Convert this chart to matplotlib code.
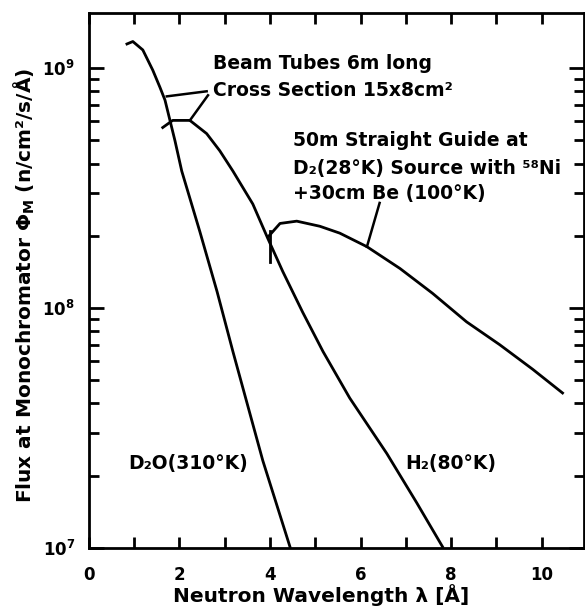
# -*- coding: utf-8 -*-

import numpy as np
import matplotlib as mpl
mpl.use('Agg')

mpl.rcParams.update({
    "font.family": "DejaVu Sans",
    "font.weight": "bold",
    "font.size": 12,
    "axes.labelweight": "bold",
    "axes.labelsize": 14.5,
    "mathtext.fontset": "dejavusans",
    "mathtext.default": "bf",
    "axes.linewidth": 2.0,
    "xtick.direction": "in",
    "ytick.direction": "in",
})

import matplotlib.pyplot as plt
from matplotlib.ticker import FixedLocator, FixedFormatter, LogLocator, NullFormatter

# wavelength [A] and flux [n/cm2/s/A]
d2o_lam  = [0.84, 0.97, 1.19, 1.41, 1.57, 1.68, 1.79, 1.90, 2.05, 2.45,
            2.83, 3.18, 3.84, 4.44]
d2o_flux = [1.26e9, 1.29e9, 1.19e9, 9.8e8, 8.3e8, 7.35e8, 6.05e8, 4.98e8,
            3.72e8, 2.08e8, 1.17e8, 6.58e7, 2.31e7, 1.01e7]

h2_lam  = [1.63, 1.85, 2.23, 2.60, 2.89, 3.18, 3.62, 3.95, 4.28,
           4.72, 5.17, 5.76, 6.58, 7.24, 7.81]
h2_flux = [5.65e8, 6.05e8, 6.05e8, 5.33e8, 4.52e8, 3.72e8, 2.71e8,
           1.95e8, 1.42e8, 9.6e7, 6.58e7, 4.21e7, 2.47e7, 1.54e7, 1.01e7]

guide_lam  = [3.97, 4.22, 4.59, 5.10, 5.54, 6.14, 6.87, 7.59, 8.34, 9.07,
              9.80, 10.46]
guide_flux = [1.99e8, 2.25e8, 2.30e8, 2.19e8, 2.05e8, 1.80e8, 1.46e8,
              1.15e8, 8.75e7, 7.03e7, 5.55e7, 4.42e7]

# short vertical stroke where the guide curve starts
guide_mark_lam  = [4.0, 4.0]
guide_mark_flux = [2.09e8, 1.56e8]

xticks = list(range(0, 11))
xlabels = ['0', '', '2', '', '4', '', '6', '', '8', '', '10']

fig = plt.figure(figsize=(5.85, 6.08), dpi=100)
ax = fig.add_axes([0.152, 0.099, 0.846, 0.880])

lw = 2.0
ax.plot(d2o_lam, d2o_flux, color='black', lw=lw)
ax.plot(h2_lam, h2_flux, color='black', lw=lw)
ax.plot(guide_lam, guide_flux, color='black', lw=lw)
ax.plot(guide_mark_lam, guide_mark_flux, color='black', lw=lw)

# leader lines
ax.plot([2.60, 1.72], [8.0e8, 7.62e8], color='black', lw=1.8)
ax.plot([2.63, 2.23], [7.7e8, 6.05e8], color='black', lw=1.8)
ax.plot([6.42, 6.14], [2.74e8, 1.8e8], color='black', lw=1.8)

ax.set_yscale('log')
ax.set_xlim(0, 10.93)
ax.set_ylim(1e7, 1.7e9)

ax.xaxis.set_major_locator(FixedLocator(xticks))
ax.xaxis.set_major_formatter(FixedFormatter(xlabels))
ax.yaxis.set_major_locator(LogLocator(base=10))
ax.yaxis.set_minor_locator(LogLocator(base=10, subs=np.arange(2, 10)))
ax.yaxis.set_minor_formatter(NullFormatter())

ax.tick_params(axis='x', which='major', top=True, length=8, width=2, pad=13)
ax.tick_params(axis='y', which='major', right=True, length=11, width=2, pad=10)
ax.tick_params(axis='y', which='minor', right=True, length=7, width=2)

ax.set_xlabel('Neutron Wavelength λ [Å]')
ax.xaxis.set_label_coords(0.47, -0.068)
ax.set_ylabel('Flux at Monochromator $\\Phi_M$ (n/cm²/s/Å)')
ax.yaxis.set_label_coords(-0.105, 0.49)

fs = 13.5
ax.text(2.74, 10**9.02, 'Beam Tubes 6m long', va='center', fontsize=fs)
ax.text(2.74, 10**8.908, 'Cross Section 15x8cm²', va='center', fontsize=fs)
ax.text(4.50, 10**8.70, '50m Straight Guide at', va='center', fontsize=fs)
ax.text(4.50, 10**8.583, 'D₂(28°K) Source with ⁵⁸Ni', va='center', fontsize=fs)
ax.text(4.50, 10**8.479, '+30cm Be (100°K)', va='center', fontsize=fs)
ax.text(0.86, 10**7.351, 'D₂O(310°K)', va='center', fontsize=fs)
ax.text(6.98, 10**7.351, 'H₂(80°K)', va='center', fontsize=fs)

fig.savefig('out.png', dpi=100)
